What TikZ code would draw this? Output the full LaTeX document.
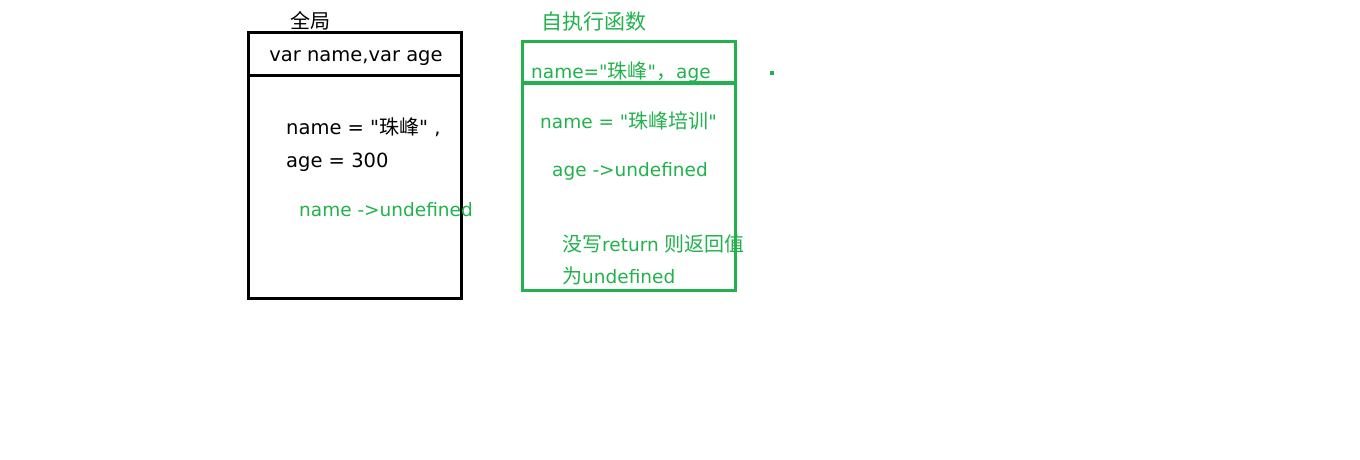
\documentclass[tikz,border=0pt]{standalone}
\usepackage{fontspec}
\newfontfamily\latin{DejaVu Sans}
\newfontfamily\cjk{Noto Sans CJK SC}
\usepackage{tikz}
\usetikzlibrary{positioning}
\definecolor{pgreen}{RGB}{34,177,76}
\newcommand{\zh}[1]{{\cjk\fontsize{20}{24}\selectfont #1}}
\tikzset{
  frame/.style = {line width=3pt},% rahmen
  txt/.style = {inner sep=0pt, anchor=west, yshift=-2.5pt,
    font=\latin\fontsize{19.5}{24}\selectfont},
  gtxt/.style = {txt, pgreen, font=\latin\fontsize{18.5}{22}\selectfont}
}
\begin{document}
\begin{tikzpicture}[x=1pt,y=-1pt]
\useasboundingbox (0,0) rectangle (1360,460);
% global
\draw[frame] (248,33) rectangle (461,298);
\draw[frame] (248,76) -- (461,76);
\node [txt] (gt) at (290,18.5) {\zh{全局}};
\node [txt, anchor=center] (gv) at (356,56) {var name,var age};
\node [txt] (ga) at (286,125) {name = "\zh{珠峰}" ,};
\node [txt] (gb) at (286,160) {age = 300};
\node [gtxt] (gc) at (299,207) {name ->undefined};
% self-executing function
\draw[frame, pgreen] (522,42) rectangle (735,290);
\draw[frame, pgreen] (522,83) -- (735,83);
\node [gtxt] (ft) at (541,19) {{\cjk\fontsize{21}{24}\selectfont 自执行函数}};
\node [gtxt] (fa) at (531,70) {name="\zh{珠峰}"\zh{，}age};
\node [gtxt] (fb) at (540,118) {name = "\zh{珠峰培训}"};
\node [gtxt] (fc) at (552,169) {age ->undefined};
\node [gtxt] (fd) at (562,241) {\zh{没写}return \zh{则返回值}};
\node [gtxt] (fe) at (562,273) {\zh{为}undefined};
\fill[pgreen] (770,71) rectangle (774,75);
\end{tikzpicture}
\end{document}
